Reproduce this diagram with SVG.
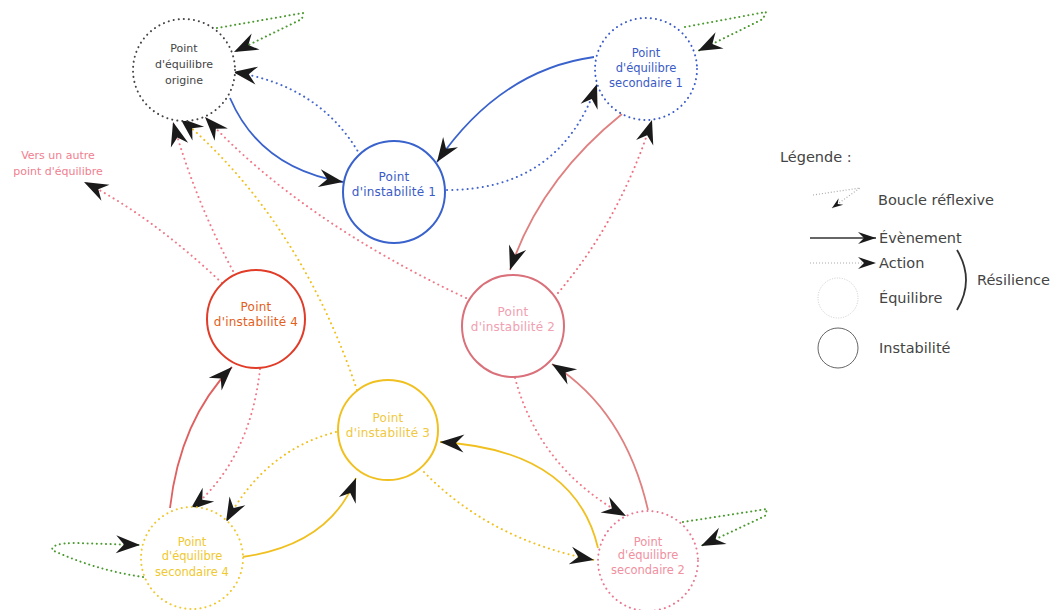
<svg xmlns="http://www.w3.org/2000/svg" width="1056" height="610" viewBox="0 0 1056 610">
<defs>
<marker id="ah" markerUnits="userSpaceOnUse" markerWidth="28" markerHeight="22" viewBox="-26 -11 28 22" refX="0" refY="0" orient="auto">
<path d="M0,0 L-24,-9 L-16,0 L-24,9 Z" fill="#1a1a1a"/>
</marker>
<marker id="ahs" markerUnits="userSpaceOnUse" markerWidth="22" markerHeight="16" viewBox="-20 -8 22 16" refX="0" refY="0" orient="auto">
<path d="M0,0 L-18,-6 L-12,0 L-18,6 Z" fill="#1a1a1a"/>
</marker>
<marker id="aht" markerUnits="userSpaceOnUse" markerWidth="14" markerHeight="10" viewBox="-12 -5 14 10" refX="0" refY="0" orient="auto">
<path d="M0,0 L-11,-4 L-7,0 L-11,4 Z" fill="#1a1a1a"/>
</marker>
</defs>
<style>
text{font-family:"DejaVu Sans","Liberation Sans",sans-serif;}
.nt{font-size:11px;text-anchor:middle;}
.ns{font-size:11.5px;text-anchor:middle;}
.ni{font-size:12px;text-anchor:middle;letter-spacing:0.2px;}
.lt{font-size:14.5px;fill:#444;}
.eq{fill:#fff;stroke-width:2;stroke-dasharray:0.1 5;stroke-linecap:round;}
.in{fill:#fff;stroke-width:2;}
.ev{fill:none;stroke-width:1.8;}
.ac{fill:none;stroke-width:2;stroke-dasharray:0.1 5;stroke-linecap:round;}
.lp{fill:none;stroke:#4a9a30;stroke-width:2;stroke-dasharray:0.1 4.5;stroke-linecap:round;}
</style>
<rect width="1056" height="610" fill="#fff"/>
<g id="connectors">
<path class="lp" d="M217,28 L303,13 L302,19 L234,52" marker-end="url(#ah)"/>
<path class="lp" d="M685,27 L766,12 L763,19 L698,51" marker-end="url(#ah)"/>
<path class="lp" d="M683,522 L767,509 L765,516 L701,546" marker-end="url(#ah)"/>
<path class="lp" d="M143,577 Q95,570 52,550 Q52,543 75,543 L140,545" marker-end="url(#ah)"/>
<path class="ev" stroke="#3a62cc" d="M230,98 Q260,168 343,182" marker-end="url(#ah)"/>
<path class="ac" stroke="#4466cc" d="M360,155 Q320,85 233,72" marker-end="url(#ah)"/>
<path class="ev" stroke="#3a62cc" d="M594,57 Q500,70 437,162" marker-end="url(#ah)"/>
<path class="ac" stroke="#4466cc" d="M447,190 Q560,190 597,84" marker-end="url(#ah)"/>
<path class="ev" stroke="#e08080" d="M622,114 Q540,180 510,270" marker-end="url(#ah)"/>
<path class="ac" stroke="#f07080" d="M558,293 Q620,220 652,120" marker-end="url(#ah)"/>
<path class="ac" stroke="#f07888" d="M466,298 Q300,220 205,117" marker-end="url(#ah)"/>
<path class="ac" stroke="#f07888" d="M233,271 Q195,200 173,122" marker-end="url(#ah)"/>
<path class="ac" stroke="#f07888" d="M222,283 Q150,215 84,182" marker-end="url(#ah)"/>
<path class="ac" stroke="#f0c020" d="M357,390 Q300,220 180,118" marker-end="url(#ah)"/>
<path class="ev" stroke="#e06060" d="M170,508 Q180,420 232,367" marker-end="url(#ah)"/>
<path class="ac" stroke="#f07888" d="M260,369 Q250,460 190,510" marker-end="url(#ah)"/>
<path class="ac" stroke="#f0c020" d="M336,432 Q265,450 226,522" marker-end="url(#ah)"/>
<path class="ev" stroke="#f0c020" d="M242,557 Q330,545 356,478" marker-end="url(#ah)"/>
<path class="ac" stroke="#f0c020" d="M424,472 Q490,540 594,560" marker-end="url(#ah)"/>
<path class="ev" stroke="#f0c020" d="M598,548 Q575,450 440,442" marker-end="url(#ah)"/>
<path class="ac" stroke="#f07888" d="M515,378 Q540,470 626,516" marker-end="url(#ah)"/>
<path class="ev" stroke="#e08080" d="M648,510 Q625,410 552,364" marker-end="url(#ah)"/>
</g>
<g id="origin">
<circle class="eq" cx="184" cy="70" r="51" stroke="#444"/>
<text class="nt" fill="#444"><tspan x="184" y="52">Point</tspan><tspan x="184" y="68">d'équilibre</tspan><tspan x="184" y="84">origine</tspan></text>
</g>
<g id="sec1">
<circle class="eq" cx="646" cy="69" r="51" stroke="#3a5bc8"/>
<text class="ns" fill="#3a5bc8"><tspan x="646" y="57">Point</tspan><tspan x="646" y="72">d'équilibre</tspan><tspan x="646" y="87">secondaire 1</tspan></text>
</g>
<g id="inst1">
<circle class="in" cx="394" cy="192" r="51" stroke="#3a62cc"/>
<text class="ni" fill="#3a5bc8"><tspan x="394" y="181">Point</tspan><tspan x="394" y="196">d'instabilité 1</tspan></text>
</g>
<g id="inst4">
<circle class="in" cx="256" cy="319" r="49" stroke="#e03c28"/>
<text class="ni" fill="#e2601c"><tspan x="256" y="311">Point</tspan><tspan x="256" y="326">d'instabilité 4</tspan></text>
</g>
<g id="inst2">
<circle class="in" cx="513" cy="326" r="51" stroke="#d9707a"/>
<text class="ni" fill="#f0a0b0"><tspan x="513" y="316">Point</tspan><tspan x="513" y="331">d'instabilité 2</tspan></text>
</g>
<g id="inst3">
<circle class="in" cx="388" cy="430" r="50" stroke="#f0c020"/>
<text class="ni" fill="#f0c840"><tspan x="388" y="422">Point</tspan><tspan x="388" y="437">d'instabilité 3</tspan></text>
</g>
<g id="sec4">
<circle class="eq" cx="192" cy="558" r="51" stroke="#f0c830"/>
<text class="ns" fill="#f0c830"><tspan x="192" y="546">Point</tspan><tspan x="192" y="560">d'équilibre</tspan><tspan x="192" y="576">secondaire 4</tspan></text>
</g>
<g id="sec2">
<circle class="eq" cx="648" cy="561" r="50" stroke="#e87890"/>
<text class="ns" fill="#f090a0"><tspan x="648" y="546">Point</tspan><tspan x="648" y="559">d'équilibre</tspan><tspan x="648" y="574">secondaire 2</tspan></text>
</g>
<g id="other">
<text class="nt" fill="#f08090"><tspan x="58" y="159">Vers un autre</tspan><tspan x="58" y="175">point d'équilibre</tspan></text>
</g>
<g id="legend">
<text class="lt" x="780" y="162">Légende :</text>
<path d="M813,195 L860,188 L832,208" fill="none" stroke="#aaa" stroke-width="1.2" stroke-dasharray="1 2" marker-end="url(#aht)"/>
<text class="lt" x="878" y="205">Boucle réflexive</text>
<path d="M810,238 L876,238" fill="none" stroke="#333" stroke-width="1.5" marker-end="url(#ahs)"/>
<text class="lt" x="879" y="243">Évènement</text>
<path d="M810,263 L876,263" fill="none" stroke="#aaa" stroke-width="1.2" stroke-dasharray="1 2" marker-end="url(#ahs)"/>
<text class="lt" x="879" y="268">Action</text>
<circle cx="838" cy="298" r="20" fill="none" stroke="#ccc" stroke-width="1" stroke-dasharray="1 1.5"/>
<text class="lt" x="879" y="303">Équilibre</text>
<path d="M957,250 Q975,280 957,310" fill="none" stroke="#333" stroke-width="1.8"/>
<text class="lt" x="977" y="285">Résilience</text>
<circle cx="838" cy="348" r="20" fill="none" stroke="#666" stroke-width="1"/>
<text class="lt" x="879" y="353">Instabilité</text>
</g>
</svg>
